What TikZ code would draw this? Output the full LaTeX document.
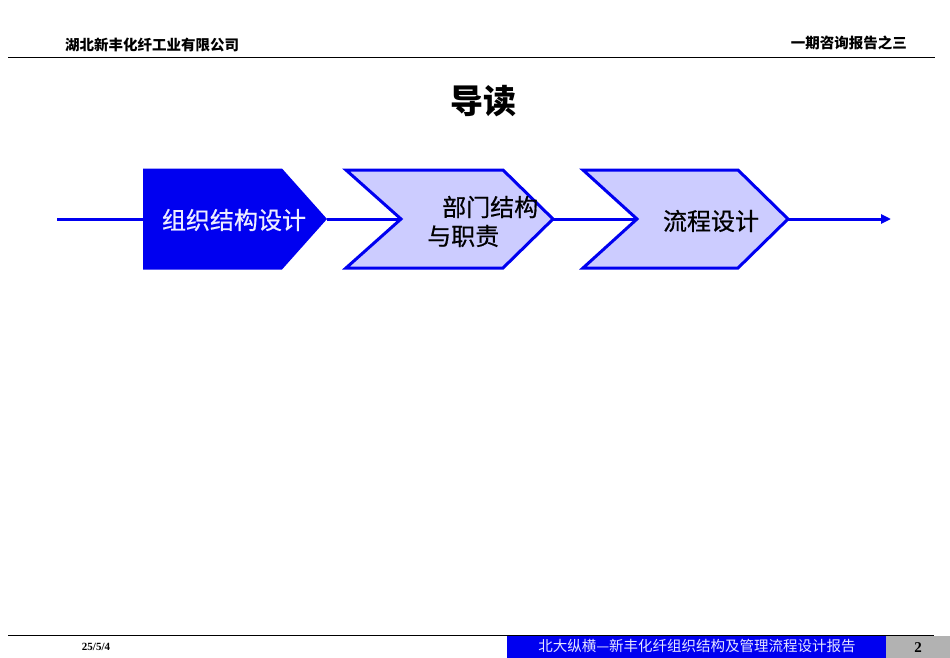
\documentclass[tikz,border=0pt]{standalone}
\usepackage{fontspec}
\setmainfont{Liberation Serif}
\newfontfamily\cjk{Noto Sans CJK SC}
\newfontfamily\cjkm{Noto Sans CJK SC}[FakeBold=0.6]
\usetikzlibrary{arrows.meta}
\definecolor{dblue}{HTML}{0000F0}
\definecolor{lav}{HTML}{CCCCFF}
\definecolor{fgray}{HTML}{B2B2B2}
\begin{document}
\begin{tikzpicture}[x=1pt,y=-1pt,
  conn/.style={dblue,line width=3pt},
  chev/.style={draw=dblue,line width=3pt,fill=lav,line join=miter},
  lbl/.style={inner sep=0pt,font=\cjkm\fontsize{24}{27}\selectfont},
  hdr/.style={inner sep=0pt,font=\cjk\bfseries\fontsize{14.5}{16}\selectfont}]
\useasboundingbox (0,0) rectangle (950,658);
\fill[white] (0,0) rectangle (950,658);
% header
\node[hdr,anchor=west] (hl) at (65,45) {湖北新丰化纤工业有限公司};
\node[hdr,anchor=east] (hr) at (907,43) {一期咨询报告之三};
\draw[line width=1pt] (8,58) -- (935,58);
\node[inner sep=0pt,font=\cjk\bfseries\fontsize{33}{36}\selectfont] (title) at (483,101) {导读};
% shapes
\fill[dblue] (143,168.5) -- (282,168.5) -- (327,219) -- (282,269.5) -- (143,269.5) -- cycle;
\draw[chev] (346,170) -- (503,170) -- (553,219) -- (503,268) -- (346,268) -- (401,219) -- cycle;
\draw[chev] (583,170) -- (738,170) -- (788,219) -- (738,268) -- (583,268) -- (637,219) -- cycle;
\coordinate (s0) at (57,219);
\coordinate (a1) at (143,219);
\coordinate (b1) at (327,219);
\coordinate (a2) at (401,219);
\coordinate (b2) at (553,219);
\coordinate (a3) at (637,219);
\coordinate (b3) at (788,219);
\coordinate (e0) at (891,219);
\draw[conn] (s0) -- (a1);
\draw[conn] (b1) -- (a2);
\draw[conn] (b2) -- (a3);
\draw[conn,-{Triangle[length=10pt,width=9pt]}] (b3) -- (e0);
\node[lbl,text=white!93!blue] (t1) at (234,220) {组织结构设计};
\node[lbl,anchor=west] (t2a) at (442,207) {部门结构};
\node[lbl,anchor=west] (t2b) at (427,236) {与职责};
\node[lbl] (t3) at (711,221) {流程设计};
% footer
\draw[line width=1pt] (8,635) -- (934,635);
\fill[dblue] (507,636) rectangle (886,658);
\fill[fgray] (886,636) rectangle (950,658);
\node[inner sep=0pt,text=white!90!blue,font=\cjk\fontsize{14.5}{16}\selectfont] (ft) at (697,646) {北大纵横—新丰化纤组织结构及管理流程设计报告};
\node[inner sep=0pt,font=\bfseries\fontsize{15}{16}\selectfont] (pg) at (918,648) {2};
\node[inner sep=0pt,font=\bfseries\fontsize{11}{12}\selectfont] (dt) at (96,647) {25/5/4};
\end{tikzpicture}
\end{document}
